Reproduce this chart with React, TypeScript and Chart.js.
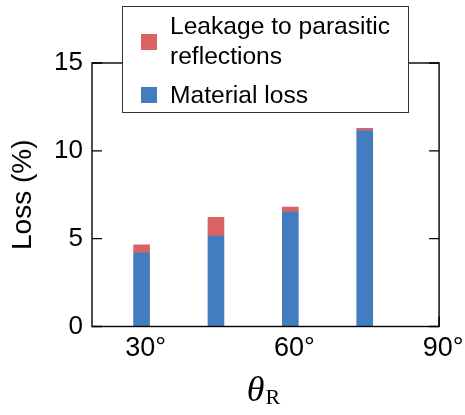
import React, { useEffect, useRef } from "react";
import { Chart, registerables } from "chart.js";

Chart.register(...registerables);

// ---- data ----
const angles = [30, 45, 60, 75];
const materialLoss = [4.18, 5.15, 6.51, 11.16];
const leakage = [0.47, 1.07, 0.29, 0.12];
const materialLabel = "Material loss";
const leakageLabel = "Leakage to parasitic reflections";
const leakageLegendLines = ["Leakage to parasitic", "reflections"];
const materialLegendLines = ["Material loss"];
const xTickValues = [30, 60, 90];
const yTickValues = [0, 5, 10, 15];
const yTitle = "Loss (%)";
const xTitleMain = "θ";
const xTitleSub = "R";

const BLUE = "#447CC0";
const RED = "#D96263";
const SANS = "'Liberation Sans', Arial, sans-serif";
const SERIF = "'Liberation Serif', 'Times New Roman', serif";

const framePlugin = {
  id: "frame",
  beforeDatasetsDraw(chart: any) {
    const { ctx, chartArea, scales } = chart;
    const { left, right, top, bottom } = chartArea;
    ctx.save();
    ctx.strokeStyle = "#000";
    ctx.lineWidth = 1.4;
    ctx.beginPath();
    yTickValues.forEach((v) => {
      const y = scales.y.getPixelForValue(v);
      ctx.moveTo(left, y);
      ctx.lineTo(left + 10, y);
      ctx.moveTo(right, y);
      ctx.lineTo(right - 10, y);
    });
    xTickValues.forEach((v) => {
      const x = scales.x.getPixelForValue(v);
      ctx.moveTo(x, bottom);
      ctx.lineTo(x, bottom - 10);
    });
    ctx.stroke();
    ctx.restore();
  },
  afterDatasetsDraw(chart: any) {
    const { ctx, chartArea } = chart;
    const { left, right, top, bottom } = chartArea;
    ctx.save();
    ctx.strokeStyle = "#000";
    ctx.lineWidth = 1.4;
    ctx.strokeRect(left, top, right - left, bottom - top);
    ctx.restore();
  },
  afterDraw(chart: any) {
    const { ctx, chartArea } = chart;
    ctx.save();
    // x-axis title: theta with subscript R
    const mainFont = `italic 36px ${SERIF}`;
    const subFont = `22px ${SERIF}`;
    ctx.font = mainFont;
    const wMain = ctx.measureText(xTitleMain).width;
    ctx.font = subFont;
    const wSub = ctx.measureText(xTitleSub).width;
    const cx = (chartArea.left + chartArea.right) / 2 - 2;
    const x0 = cx - (wMain + wSub + 1) / 2;
    ctx.fillStyle = "#000";
    ctx.textBaseline = "alphabetic";
    ctx.textAlign = "left";
    ctx.font = mainFont;
    ctx.fillText(xTitleMain, x0, 401);
    ctx.font = subFont;
    ctx.fillText(xTitleSub, x0 + wMain + 1, 403.5);

    // legend
    const ds = chart.data.datasets;
    const lx = 122.5, ly = 6.5, lw = 286, lh = 106;
    ctx.fillStyle = "#fff";
    ctx.fillRect(lx, ly, lw, lh);
    ctx.strokeStyle = "#333";
    ctx.lineWidth = 1;
    ctx.strokeRect(lx, ly, lw, lh);
    ctx.font = `24.6px ${SANS}`;
    ctx.fillStyle = ds[1].backgroundColor;
    ctx.fillRect(141, 34, 16, 16);
    ctx.fillStyle = ds[0].backgroundColor;
    ctx.fillRect(141, 87, 16, 16);
    ctx.fillStyle = "#000";
    leakageLegendLines.forEach((t, i) => ctx.fillText(t, 170, 33.5 + i * 30));
    materialLegendLines.forEach((t, i) => ctx.fillText(t, 170, 102.5 + i * 30));
    ctx.restore();
  },
};

export default function App() {
  const ref = useRef<HTMLCanvasElement>(null);
  useEffect(() => {
    if (!ref.current) return;
    const chart = new Chart(ref.current, {
      type: "bar",
      data: {
        datasets: [
          {
            label: materialLabel,
            data: angles.map((a, i) => ({ x: a, y: materialLoss[i] })),
            backgroundColor: BLUE,
            borderWidth: 0,
            barThickness: 16,
          },
          {
            label: leakageLabel,
            data: angles.map((a, i) => ({ x: a, y: leakage[i] })),
            backgroundColor: RED,
            borderWidth: 0,
            barThickness: 16,
          },
        ],
      },
      options: {
        animation: false,
        responsive: false,
        devicePixelRatio: 1,
        layout: { padding: { top: 63, right: 23.3, left: 0, bottom: 0 } },
        plugins: { legend: { display: false }, tooltip: { enabled: false } },
        scales: {
          x: {
            type: "linear",
            min: 20,
            max: 90,
            offset: false,
            stacked: true,
            grid: { display: false, drawTicks: false },
            border: { display: false },
            afterBuildTicks: (s: any) => {
              s.ticks = xTickValues.map((v) => ({ value: v }));
            },
            afterFit: (s: any) => {
              s.height = 88.5;
            },
            ticks: {
              padding: 5.5,
              labelOffset: 4,
              maxRotation: 0,
              autoSkip: false,
              color: "#000",
              font: { size: 27, family: SANS },
              callback: (v: any) => `${v}°`,
            },
          },
          y: {
            type: "linear",
            min: 0,
            max: 15,
            stacked: true,
            grid: { display: false, drawTicks: false },
            border: { display: false },
            afterBuildTicks: (s: any) => {
              s.ticks = yTickValues.map((v) => ({ value: v }));
            },
            afterFit: (s: any) => {
              s.width = 92;
            },
            ticks: {
              padding: 9,
              color: "#000",
              font: { size: 26, family: SANS },
            },
            title: {
              display: true,
              text: yTitle,
              color: "#000",
              font: { size: 28, family: SANS },
              padding: { top: 6, bottom: 0 },
            },
          },
        },
      },
      plugins: [framePlugin],
    } as any);
    return () => chart.destroy();
  }, []);
  return (
    <div style={{ position: "fixed", left: 0, top: 0, width: 465, height: 415, background: "#fff" }}>
      <canvas ref={ref} width={465} height={415} />
    </div>
  );
}
